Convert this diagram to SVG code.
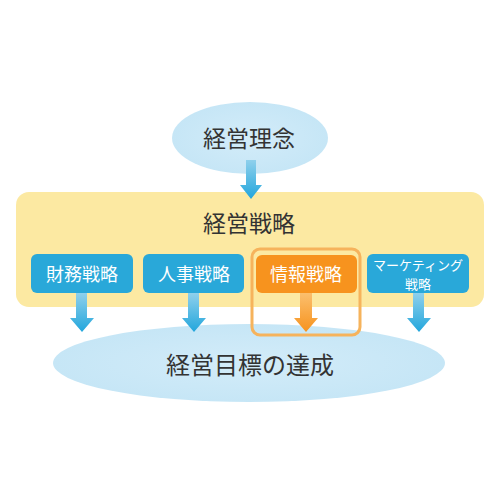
<svg xmlns="http://www.w3.org/2000/svg" width="500" height="500" viewBox="0 0 500 500">
  <defs>
    <linearGradient id="gBlueArrow" x1="0" y1="0" x2="0" y2="1">
      <stop offset="0" stop-color="#8fd0ec"/>
      <stop offset="1" stop-color="#22a6dc"/>
    </linearGradient>
    <linearGradient id="gOrangeArrow" x1="0" y1="0" x2="0" y2="1">
      <stop offset="0" stop-color="#fbbf6e"/>
      <stop offset="1" stop-color="#f7931e"/>
    </linearGradient>
    <radialGradient id="gEllipse" cx="0.5" cy="0.5" r="0.5">
      <stop offset="0" stop-color="#d3ecf9"/>
      <stop offset="1" stop-color="#c6e6f6"/>
    </radialGradient>
    <style>
      .lbl { font-family: "Noto Sans CJK JP", "Noto Sans", sans-serif; text-anchor: middle; dominant-baseline: central; }
      .dark { fill: #333333; }
      .white { fill: #ffffff; }
      .blue { fill: #29a8d9; }
      .orange { fill: #f7931e; }
      .arrB { fill: url(#gBlueArrow); }
      .arrO { fill: url(#gOrangeArrow); }
    </style>
  </defs>
  <rect x="0" y="0" width="500" height="500" fill="#ffffff"/>

  <g id="node-goal">
    <ellipse cx="249" cy="363" rx="196" ry="39" fill="url(#gEllipse)"/>
    <text class="lbl dark" x="250" y="363" font-size="24">経営目標の達成</text>
  </g>

  <g id="node-philosophy">
    <ellipse cx="250" cy="138" rx="78" ry="36" fill="url(#gEllipse)"/>
    <text class="lbl dark" x="249" y="137" font-size="23">経営理念</text>
  </g>

  <g id="node-strategy">
    <rect x="16" y="192" width="468" height="115" rx="13" fill="#fce9a2"/>
    <text class="lbl dark" x="249" y="222" font-size="23">経営戦略</text>
  </g>

  <g id="connectors">
    <path class="arrB" d="M246,160 H256 V185 H262 L251,199 L240,185 H246 Z"/>
    <path class="arrB" d="M76,293 H87 V318 H94 L82,332 L70,318 H76 Z"/>
    <path class="arrB" d="M188,293 H199 V318 H206 L194,332 L182,318 H188 Z"/>
    <path class="arrO" d="M300,293 H312 V318 H318 L306,332 L294,318 H300 Z"/>
    <path class="arrB" d="M413,293 H424 V318 H431 L419,332 L407,318 H413 Z"/>
  </g>

  <g id="node-finance">
    <rect class="blue" x="31" y="254" width="102" height="39" rx="6"/>
    <text class="lbl white" x="82" y="273" font-size="18">財務戦略</text>
  </g>

  <g id="node-hr">
    <rect class="blue" x="143" y="254" width="101" height="39" rx="6"/>
    <text class="lbl white" x="194" y="273" font-size="18">人事戦略</text>
  </g>

  <g id="node-info">
    <rect x="252" y="249" width="108" height="86" rx="8" fill="none" stroke="#f6b35c" stroke-width="3"/>
    <rect class="orange" x="256" y="255" width="101" height="38" rx="6"/>
    <text class="lbl white" x="306" y="273" font-size="18">情報戦略</text>
  </g>

  <g id="node-marketing">
    <rect class="blue" x="367" y="254" width="102" height="39" rx="6"/>
    <text class="lbl white" x="418" y="264" font-size="13">マーケティング</text>
    <text class="lbl white" x="418" y="283" font-size="13">戦略</text>
  </g>
</svg>
